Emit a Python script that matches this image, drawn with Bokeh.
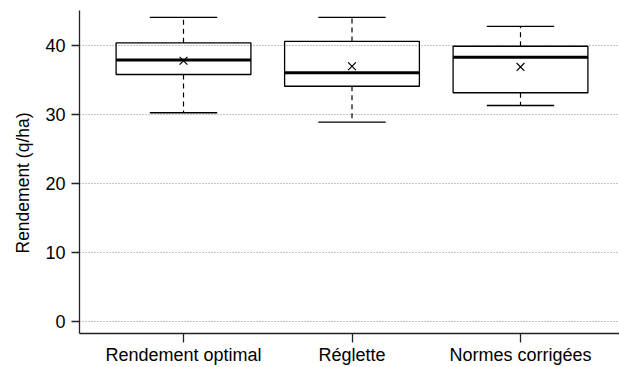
from bokeh.plotting import figure
from bokeh.models import FixedTicker, Range1d, Title
from bokeh.embed import file_html
from bokeh.resources import INLINE

categories = ["Rendement optimal", "Réglette", "Normes corrigées"]
lower_whisker = [30.25, 28.9, 31.3]
q1 = [35.8, 34.1, 33.15]
median = [37.9, 36.05, 38.3]
q3 = [40.4, 40.6, 39.9]
upper_whisker = [44.1, 44.1, 42.8]
means = [37.8, 37.0, 36.9]
y_ticks = [0, 10, 20, 30, 40]
y_title = "Rendement (q/ha)"

FONT = "Liberation Sans"
xs = [i + 1 for i in range(len(categories))]
box_half = 0.4
cap_half = 0.2

p = figure(width=619, height=367, output_backend="svg", toolbar_location=None,
           x_range=Range1d(0.3828, 3.5875), y_range=Range1d(-1.785, 45.09),
           min_border_left=79, min_border_right=0, min_border_top=10, min_border_bottom=34)
p.outline_line_color = None
p.background_fill_color = "white"
p.border_fill_color = "white"

p.xgrid.visible = False
p.ygrid.ticker = FixedTicker(ticks=y_ticks)
p.ygrid.grid_line_color = "#8f8f8f"
p.ygrid.grid_line_dash = "1 2"
p.ygrid.grid_line_width = 1

# whiskers
p.segment(x0=xs, y0=q3, x1=xs, y1=upper_whisker, line_color="black", line_width=1.2, line_dash="5 4")
p.segment(x0=xs, y0=q1, x1=xs, y1=lower_whisker, line_color="black", line_width=1.2, line_dash="5 4")
# caps
p.segment(x0=[x - cap_half for x in xs], y0=upper_whisker, x1=[x + cap_half for x in xs], y1=upper_whisker,
          line_color="black", line_width=1.3)
p.segment(x0=[x - cap_half for x in xs], y0=lower_whisker, x1=[x + cap_half for x in xs], y1=lower_whisker,
          line_color="black", line_width=1.3)
# boxes
p.vbar(x=xs, width=2 * box_half, bottom=q1, top=q3, fill_color=None, line_color="black", line_width=1.3)
# medians
p.segment(x0=[x - box_half for x in xs], y0=median, x1=[x + box_half for x in xs], y1=median,
          line_color="black", line_width=3)
# means
p.scatter(x=xs, y=means, marker="x", size=11, line_color="black", line_width=1.2)

for ax in (p.xaxis[0], p.yaxis[0]):
    ax.axis_line_color = "#222222"
    ax.axis_line_width = 1.3
    ax.major_tick_line_color = "#222222"
    ax.major_tick_line_width = 1.3
    ax.minor_tick_line_color = None
    ax.major_tick_in = 0
    ax.major_label_text_font = FONT
    ax.major_label_text_font_size = "18px"
    ax.major_label_text_color = "black"

p.xaxis.ticker = FixedTicker(ticks=xs)
p.xaxis.major_label_overrides = {x: c for x, c in zip(xs, categories)}
p.xaxis.major_tick_out = 9
p.xaxis.major_label_standoff = 2

p.yaxis.ticker = FixedTicker(ticks=y_ticks)
p.yaxis.major_tick_out = 8
p.yaxis.major_label_standoff = 6

p.add_layout(Title(text=y_title, align="left", offset=80, standoff=20,
                   text_font=FONT, text_font_size="17.5px", text_font_style="normal",
                   text_color="black"), "left")

open("out.html", "w").write(file_html(p, INLINE))
